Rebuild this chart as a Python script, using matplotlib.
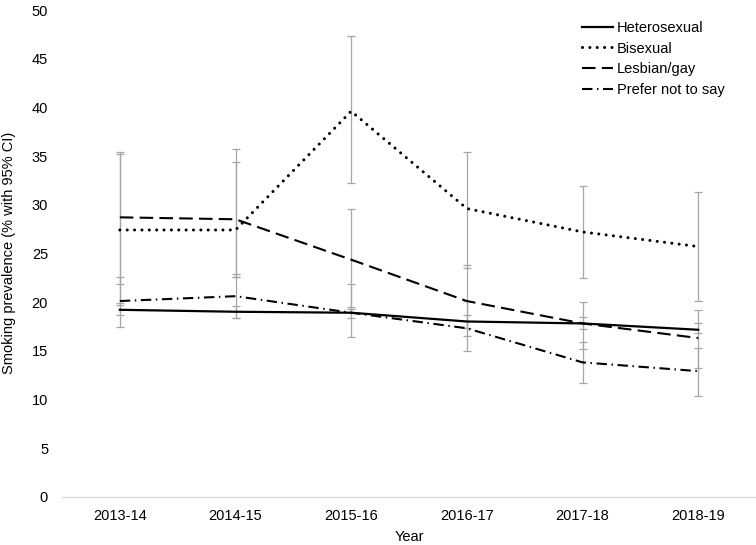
import matplotlib
matplotlib.use("Agg")
import matplotlib.pyplot as plt

# datos
years = ["2013-14", "2014-15", "2015-16", "2016-17", "2017-18", "2018-19"]

het = [19.2, 19.0, 18.9, 18.0, 17.8, 17.15]
het_lo = [18.65, 18.4, 18.35, 17.3, 17.25, 16.85]
het_hi = [19.7, 19.6, 19.5, 18.65, 18.45, 17.8]

bi = [27.4, 27.4, 39.6, 29.6, 27.2, 25.7]
bi_lo = [19.9, 22.6, 32.2, 23.5, 22.5, 20.1]
bi_hi = [35.2, 34.4, 47.3, 35.4, 31.9, 31.3]

les = [28.7, 28.5, 24.35, 20.1, 17.8, 16.3]
les_lo = [21.8, 22.6, 19.3, 16.5, 15.2, 13.2]
les_hi = [35.4, 35.7, 29.6, 23.8, 20.0, 19.2]

pns = [20.1, 20.6, 18.9, 17.3, 13.8, 12.9]
pns_lo = [17.4, 18.4, 16.45, 15.0, 11.7, 10.3]
pns_hi = [22.6, 22.9, 21.8, 20.1, 15.9, 15.3]

series = [
    ("Heterosexual", het, het_lo, het_hi, "-"),
    ("Bisexual", bi, bi_lo, bi_hi, (0, (0.01, 2.4))),
    ("Lesbian/gay", les, les_lo, les_hi, (0, (6.5, 3))),
    ("Prefer not to say", pns, pns_lo, pns_hi, (0, (5, 2.2, 0.7, 2.2))),
]

plt.rcParams["font.family"] = ["Liberation Sans", "DejaVu Sans"]
plt.rcParams["font.size"] = 10.5

fig = plt.figure(figsize=(7.56, 5.45), dpi=100)
ax = fig.add_axes([62 / 756, 48.3 / 545, 694 / 756, 486.7 / 545])

x = list(range(len(years)))

# barras de error en gris, detras de las lineas
for nombre, vals, lo, hi, estilo in series:
    err = [[v - l for v, l in zip(vals, lo)], [h - v for v, h in zip(vals, hi)]]
    ax.errorbar(x, vals, yerr=err, fmt="none", ecolor="#a6a6a6",
                elinewidth=0.9, capsize=3, capthick=0.9, zorder=1)

for nombre, vals, lo, hi, estilo in series:
    if estilo == "-":
        ax.plot(x, vals, color="black", lw=1.6, label=nombre, zorder=3)
    elif nombre == "Bisexual":
        ax.plot(x, vals, color="black", lw=2.2, linestyle=estilo,
                dash_capstyle="round", label=nombre, zorder=3)
    else:
        ax.plot(x, vals, color="black", lw=1.5, linestyle=estilo,
                label=nombre, zorder=3)

ax.set_xlim(-0.5, len(years) - 0.5)
ax.set_ylim(0, 50)
ax.set_yticks(range(0, 51, 5))
ax.set_xticks(x)
ax.set_xticklabels(years)
ax.tick_params(axis="y", length=0, pad=10)
ax.tick_params(axis="x", length=0, pad=8.5)

for lado in ["top", "right", "left"]:
    ax.spines[lado].set_visible(False)
ax.spines["bottom"].set_color("#d9d9d9")
ax.spines["bottom"].set_linewidth(1)

ax.set_xlabel("Year", labelpad=5.5)
ax.set_ylabel("Smoking prevalence (% with 95% CI)")
ax.yaxis.set_label_coords(-0.066, 0.5)

ax.legend(loc="upper left", bbox_to_anchor=((582 - 62) / 694, (496.7 - 21) / 486.7),
          frameon=False, borderpad=0, borderaxespad=0, handlelength=2.1,
          handletextpad=0.3, labelspacing=0.45, fontsize=10.5)

plt.savefig("out.png", dpi=100)
